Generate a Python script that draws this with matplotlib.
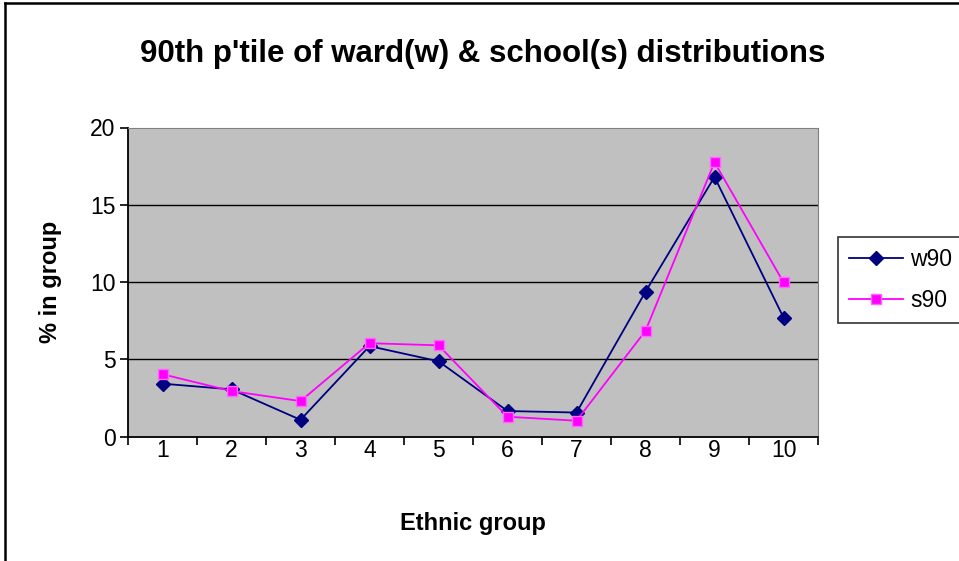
import matplotlib
matplotlib.use("Agg")
import matplotlib.pyplot as plt
from matplotlib.lines import Line2D

plt.rcParams['font.family'] = ['Liberation Sans', 'DejaVu Sans']

groups = [1, 2, 3, 4, 5, 6, 7, 8, 9, 10]
w90 = [3.42, 3.05, 1.08, 5.85, 4.87, 1.65, 1.55, 9.37, 16.8, 7.7]
s90 = [4.03, 2.94, 2.29, 6.04, 5.9, 1.28, 1.02, 6.84, 17.75, 9.98]
yticks = [0, 5, 10, 15, 20]

fig = plt.figure(figsize=(9.59, 5.61), dpi=100)
W, H = 959, 561
ax = fig.add_axes([128 / W, 1 - 436.5 / H, (818 - 128) / W, (436.5 - 127.5) / H])
ax.set_facecolor('#C0C0C0')

ax.plot(groups, w90, color='#000080', marker='D', markersize=7.5, linewidth=1.3,
        markerfacecolor='#000080', markeredgecolor='#000080', label='w90', zorder=3)
ax.plot(groups, s90, color='#FF00FF', marker='s', markersize=7.5, linewidth=1.3,
        markerfacecolor='#FF00FF', markeredgecolor='#FF66FF', label='s90', zorder=3)

ax.set_xlim(0.5, 10.5)
ax.set_ylim(0, 20)
ax.set_yticks(yticks)
ax.set_xticks([g - 0.5 for g in groups] + [10.5])
ax.set_xticklabels([])
ax.set_xticks(groups, minor=True)
ax.set_xticklabels([str(g) for g in groups], minor=True)
ax.tick_params(axis='x', which='minor', length=0, pad=2, labelsize=16.5)
ax.tick_params(axis='x', which='major', length=6, width=1.2, direction='out')
ax.tick_params(axis='y', length=6, width=1.2, direction='out', labelsize=16.5, pad=3)

for v in yticks[1:-1]:
    ax.axhline(v, color='black', linewidth=1.0, zorder=1)

ax.spines['left'].set_linewidth(1.3)
ax.spines['bottom'].set_linewidth(1.3)
ax.spines['top'].set_color('#808080')
ax.spines['right'].set_color('#808080')

ax.set_ylabel('% in group', fontsize=17, fontweight='bold', labelpad=20)
ax.set_xlabel('Ethnic group', fontsize=17, fontweight='bold', labelpad=36)
fig.text(483 / W, 1 - 54 / H, "90th p'tile of ward(w) & school(s) distributions",
         ha='center', va='center', fontsize=22.5, fontweight='bold')

leg = fig.legend(loc='upper left', bbox_to_anchor=(838 / W, 1 - 237 / H),
                 borderaxespad=0, fontsize=16.5, frameon=True, fancybox=False,
                 edgecolor='black', handlelength=2.35, borderpad=0.5,
                 labelspacing=0.75, handletextpad=0.3)
leg.get_frame().set_linewidth(1.2)

fig.add_artist(Line2D([5 / W, 5 / W], [0, 1 - 2.5 / H], color='black', linewidth=1.8,
                      transform=fig.transFigure))
fig.add_artist(Line2D([5 / W, 1], [1 - 2.5 / H, 1 - 2.5 / H], color='black', linewidth=1.8,
                      transform=fig.transFigure))

fig.savefig('out.png', dpi=100)
